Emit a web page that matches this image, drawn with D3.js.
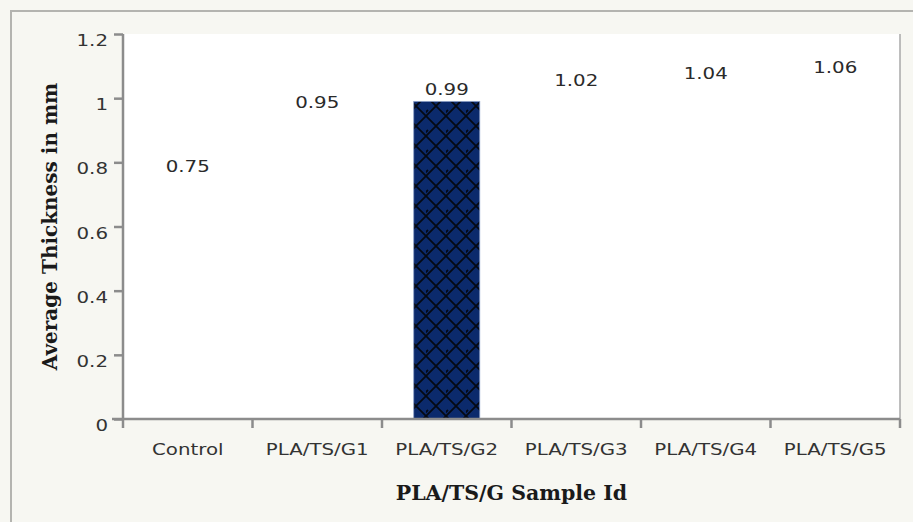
<!DOCTYPE html>
<html>
<head>
<meta charset="utf-8">
<script src="https://cdn.jsdelivr.net/npm/d3@7"></script>
<style>
  html, body { margin: 0; padding: 0; background: #f7f7f2; }
  svg { display: block; }
</style>
</head>
<body>
<svg id="chart" width="913" height="522"></svg>
<script>
// Sample groups and their measured average thickness (mm)
const categories = ["Control", "PLA/TS/G1", "PLA/TS/G2", "PLA/TS/G3", "PLA/TS/G4", "PLA/TS/G5"];
const thickness = [0.75, 0.95, 0.99, 1.02, 1.04, 1.06];
const yTicks = [0, 0.2, 0.4, 0.6, 0.8, 1, 1.2];
const yTickLabels = ["0", "0.2", "0.4", "0.6", "0.8", "1", "1.2"];
// Only G2 is shaded with the navy crosshatch; the rest are left white
const barFills = ["#ffffff", "#ffffff", "url(#xhatch)", "#ffffff", "#ffffff", "#ffffff"];

const xTitle = "PLA/TS/G Sample Id";
const yTitle = "Average Thickness in mm";

const W = 913, H = 522;
const margin = { left: 123, right: 13, top: 34, bottom: 103 };
const plotW = W - margin.left - margin.right;
const plotH = H - margin.top - margin.bottom;

// Wide sans face for tick and value labels
const SANS = "DejaVu Sans, Verdana, sans-serif";
const SANS_SIZE = 16.5;
const WIDEN = 1.2;

const svg = d3.select("#chart");

// Crosshatch pattern for the shaded bar
const defs = svg.append("defs");
const pat = defs.append("pattern")
  .attr("id", "xhatch")
  .attr("patternUnits", "userSpaceOnUse")
  .attr("width", 20).attr("height", 20)
  .attr("x", 3).attr("y", 2);
pat.append("rect").attr("width", 20).attr("height", 20).attr("fill", "#0b2a6c");
pat.append("path")
  .attr("d", "M-2,-2 L22,22 M22,-2 L-2,22 M-12,8 L2,22 M8,-12 L22,2 M18,-2 L22,-6 M-2,18 L2,14")
  .attr("stroke", "#040914").attr("stroke-width", 1.8).attr("fill", "none");

// Outer frame
svg.append("rect")
  .attr("x", 11).attr("y", 11)
  .attr("width", W + 10).attr("height", H + 10)
  .attr("fill", "#f7f7f2")
  .attr("stroke", "#b4b4b0").attr("stroke-width", 2);

const g = svg.append("g").attr("transform", `translate(${margin.left},${margin.top})`);

const x = d3.scaleBand().domain(categories).range([0, plotW]).paddingInner(0.49).paddingOuter(0.245);
const y = d3.scaleLinear().domain([0, 1.2]).range([plotH, 0]);

// Plot area
g.append("rect")
  .attr("width", plotW).attr("height", plotH)
  .attr("fill", "#ffffff");
g.append("line")
  .attr("x1", plotW).attr("x2", plotW)
  .attr("y1", 0).attr("y2", plotH)
  .attr("stroke", "#a8a8a8").attr("stroke-width", 1.5);

// Bars
g.selectAll("rect.bar")
  .data(categories)
  .join("rect")
  .attr("class", "bar")
  .attr("x", d => x(d))
  .attr("width", x.bandwidth())
  .attr("y", (d, i) => y(thickness[i]))
  .attr("height", (d, i) => plotH - y(thickness[i]))
  .attr("fill", (d, i) => barFills[i])
  .attr("stroke", (d, i) => barFills[i].startsWith("url") ? "#8da0c8" : "none")
  .attr("stroke-width", 0.8);

// Value labels above each bar
g.selectAll("text.val")
  .data(categories)
  .join("text")
  .attr("class", "val")
  .attr("transform", (d, i) => `translate(${x(d) + x.bandwidth() / 2},${y(thickness[i]) - 6}) scale(${WIDEN},1)`)
  .attr("text-anchor", "middle")
  .attr("font-family", SANS)
  .attr("font-size", SANS_SIZE)
  .attr("fill", "#2a2a2a")
  .text((d, i) => thickness[i].toFixed(2));

// Y axis
const yAxis = d3.axisLeft(y)
  .tickValues(yTicks)
  .tickFormat((d, i) => yTickLabels[i])
  .tickSize(9)
  .tickPadding(6);
const ya = g.append("g").call(yAxis);
ya.select(".domain").attr("stroke", "#8c8c8c").attr("stroke-width", 2.5)
  .attr("d", `M0,${plotH}V0`);
ya.selectAll(".tick line").attr("stroke", "#8c8c8c").attr("stroke-width", 2.5);
ya.selectAll(".tick text")
  .attr("x", -15 / WIDEN)
  .attr("transform", `scale(${WIDEN},1)`)
  .attr("font-family", SANS)
  .attr("font-size", SANS_SIZE)
  .attr("fill", "#333")
  .attr("dy", "0.7em");

// X axis
const xAxis = d3.axisBottom(x).tickSize(0).tickPadding(24);
const xa = g.append("g").attr("transform", `translate(0,${plotH})`).call(xAxis);
xa.select(".domain").attr("stroke", "#8c8c8c").attr("stroke-width", 2.5)
  .attr("d", `M-11,0H${plotW}`);
xa.selectAll(".tick text")
  .attr("transform", `scale(${WIDEN},1)`)
  .attr("font-family", SANS)
  .attr("font-size", SANS_SIZE)
  .attr("fill", "#333");
// Category boundary ticks
const step = x.step();
const bounds = d3.range(categories.length + 1).map(i => x(categories[0]) - x.paddingOuter() * step + i * step);
xa.selectAll("line.bound")
  .data(bounds)
  .join("line")
  .attr("class", "bound")
  .attr("x1", d => d).attr("x2", d => d)
  .attr("y1", 0).attr("y2", 9)
  .attr("stroke", "#8c8c8c").attr("stroke-width", 2.5);

// Axis titles
svg.append("text")
  .attr("x", margin.left + plotW / 2)
  .attr("y", 500)
  .attr("text-anchor", "middle")
  .attr("font-family", "DejaVu Serif, serif")
  .attr("font-weight", "bold")
  .attr("font-size", 20.5)
  .attr("fill", "#1a1a1a")
  .text(xTitle);

svg.append("text")
  .attr("transform", `translate(57,${margin.top + plotH / 2}) rotate(-90)`)
  .attr("text-anchor", "middle")
  .attr("font-family", "DejaVu Serif, serif")
  .attr("font-weight", "bold")
  .attr("font-size", 20)
  .attr("fill", "#1a1a1a")
  .text(yTitle);
</script>
</body>
</html>
